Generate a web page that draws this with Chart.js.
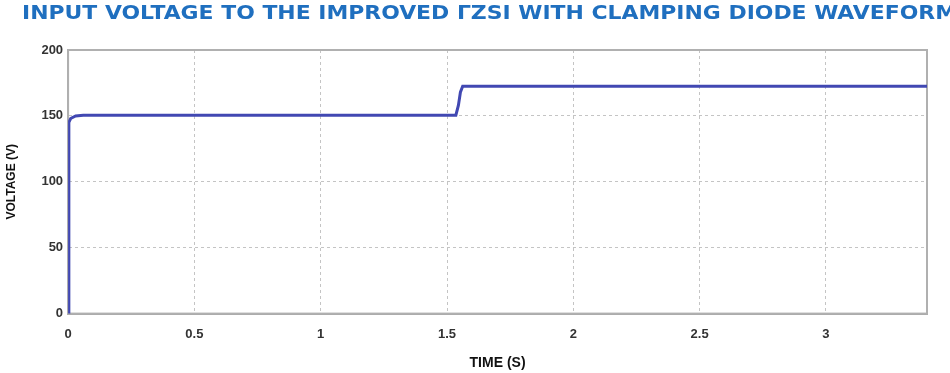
<!DOCTYPE html>
<html>
<head>
<meta charset="utf-8">
<script src="https://cdn.jsdelivr.net/npm/chart.js@4/dist/chart.umd.min.js"></script>
<style>
  html, body { margin: 0; padding: 0; background: #fff; }
  #wrap { width: 950px; height: 373px; position: relative; }
</style>
</head>
<body>
<div id="wrap"><canvas id="chart"></canvas></div>
<script>
// 波形データ
const timeValues = [0, 0.003, 0.01, 0.03, 0.06, 1.535, 1.545, 1.553, 1.562, 3.4];
const voltageValues = [0, 145, 148, 150, 150.5, 150.5, 158, 168, 172.5, 172.5];
const xTicks = [0, 0.5, 1, 1.5, 2, 2.5, 3];
const yTicks = [0, 50, 100, 150, 200];

const titleText = 'INPUT VOLTAGE TO THE IMPROVED ΓZSI WITH CLAMPING DIODE WAVEFORM';

const points = timeValues.map((t, i) => ({ x: t, y: voltageValues[i] }));

const tickFont = { family: 'Arial, Liberation Sans', size: 13, weight: 'bold' };

const ctx = document.getElementById('chart').getContext('2d');
new Chart(ctx, {
    type: 'line',
    data: {
        datasets: [{
            label: 'Input voltage',
            data: points,
            borderColor: '#4148b2',
            borderWidth: 3,
            pointRadius: 0,
            tension: 0,
            fill: false
        }]
    },
    options: {
        responsive: true,
        maintainAspectRatio: false,
        animation: false,
        layout: {
            padding: { left: 4, right: 23, top: 50, bottom: 1 }
        },
        plugins: {
            legend: { display: false },
            tooltip: { enabled: false },
            title: { display: false }
        },
        scales: {
            x: {
                type: 'linear',
                min: 0,
                max: 3.4,
                afterBuildTicks: axis => {
                    axis.ticks = xTicks.map(v => ({ value: v }));
                },
                ticks: {
                    color: '#333',
                    font: tickFont,
                    padding: 13,
                    maxRotation: 0,
                    callback: v => String(v)
                },
                grid: {
                    color: '#c4c4c4',
                    lineWidth: 1,
                    drawTicks: false
                },
                border: { color: '#a8a8a8', width: 2, dash: [3, 3] },
                title: {
                    display: true,
                    text: 'TIME (S)',
                    color: '#111',
                    font: { family: 'Arial, Liberation Sans', size: 14, weight: 'bold' },
                    padding: { top: 0, bottom: 0 }
                }
            },
            y: {
                type: 'linear',
                min: 0,
                max: 200,
                afterBuildTicks: axis => {
                    axis.ticks = yTicks.map(v => ({ value: v }));
                },
                ticks: {
                    color: '#333',
                    font: tickFont,
                    padding: 5
                },
                grid: {
                    color: '#c4c4c4',
                    lineWidth: 1,
                    drawTicks: false
                },
                border: { color: '#a8a8a8', width: 2, dash: [3, 3] },
                title: {
                    display: true,
                    text: 'VOLTAGE (V)',
                    color: '#111',
                    font: { family: 'Arial, Liberation Sans', size: 12, weight: 'bold' },
                    padding: { top: 0, bottom: 18 }
                }
            }
        }
    },
    plugins: [{
        // 外枠
        id: 'frame',
        beforeDatasetsDraw(chart) {
            const { ctx, chartArea: a } = chart;
            ctx.save();
            ctx.strokeStyle = '#b0b0b0';
            ctx.lineWidth = 2;
            ctx.setLineDash([]);
            ctx.strokeRect(a.left, a.top, a.right - a.left, a.bottom - a.top);
            ctx.restore();
        }
    }, {
        // タイトル（横に引き伸ばして描画）
        id: 'wideTitle',
        afterDraw(chart) {
            const c = chart.ctx;
            c.save();
            c.font = 'bold 19px "DejaVu Sans", Arial';
            c.fillStyle = '#1f6fbf';
            c.textBaseline = 'middle';
            const w = c.measureText(titleText).width;
            const target = 935;
            c.translate(22, 14);
            c.scale(target / w, 1);
            c.fillText(titleText, 0, 0);
            c.restore();
        }
    }]
});
</script>
</body>
</html>
